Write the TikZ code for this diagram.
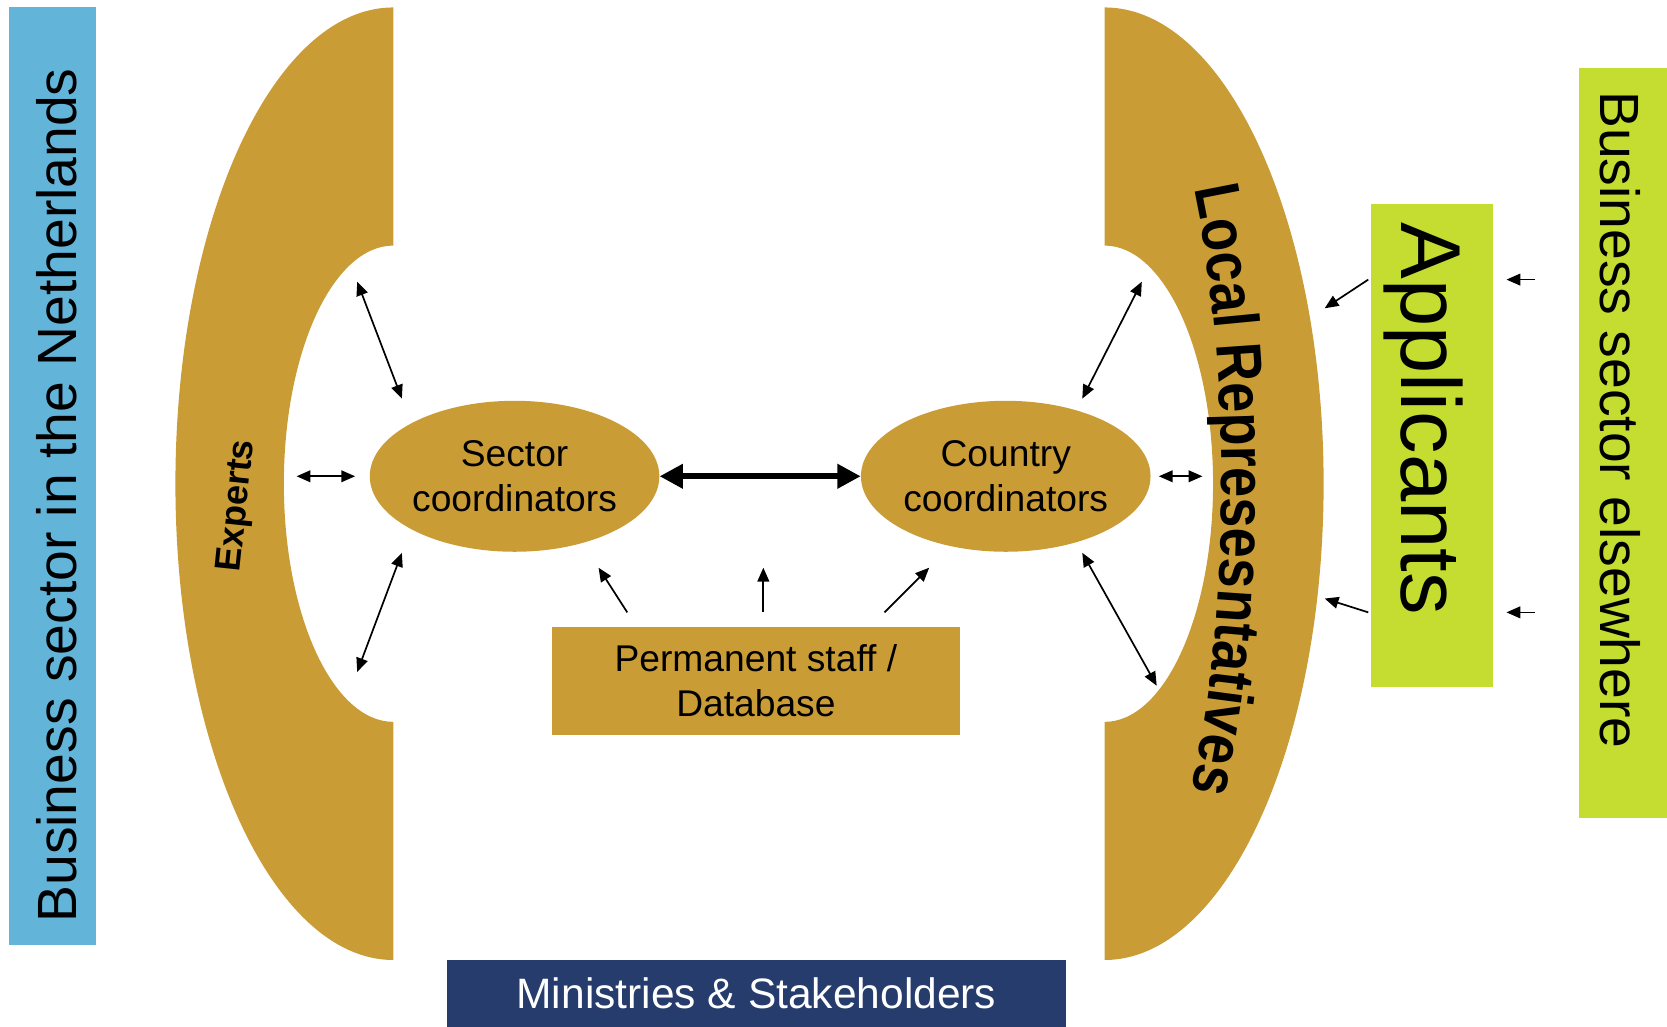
\documentclass[tikz,border=0pt]{standalone}
\usepackage{fontspec}
\setmainfont{Liberation Sans}
\newfontfamily\archfont[FakeStretch=0.85]{Liberation Sans}
\usetikzlibrary{arrows.meta,shapes.geometric,decorations.text}
\definecolor{goldband}{HTML}{CA9C36}
\definecolor{nlblue}{HTML}{62B4D9}
\definecolor{limegreen}{HTML}{C5DC30}
\definecolor{ministry}{HTML}{263C6C}

\begin{document}
\begin{tikzpicture}[x=1pt, y=1pt,
		coord/.style = {ellipse, fill=goldband, minimum width=270pt, minimum height=142pt, inner sep=0pt, align=center, font=\fontsize{35}{42}\selectfont},
		band/.style = {inner sep=0pt, font=\fontsize{52}{60}\selectfont},
		link/.style = {line width=1.6pt, {Triangle[length=13pt,width=11pt]}-{Triangle[length=13pt,width=11pt]}},
		feed/.style = {line width=1.6pt, -{Triangle[length=13pt,width=11pt]}}]
	\useasboundingbox (0,0) rectangle (1568,966);

	\fill[nlblue] (8,77) rectangle (90,959);
	\fill[limegreen] (1485,197) rectangle (1568,902);
	\fill[limegreen] (1290,320) rectangle (1404,774);

	\fill[goldband] (370,959) arc[start angle=90, end angle=270, x radius=205pt, y radius=448pt] -- (370,287) arc[start angle=270, end angle=90, x radius=103pt, y radius=224pt] -- cycle;
	\fill[goldband] (1039,959) arc[start angle=90, end angle=-90, x radius=206pt, y radius=448pt] -- (1039,287) arc[start angle=-90, end angle=90, x radius=102pt, y radius=224pt] -- cycle;

	\node[band, rotate=90, anchor=base] (nl) at (72,500) {Business sector in the Netherlands};
	\node[band, rotate=-90, anchor=base] (abroad) at (1505,571) {Business sector elsewhere};
	\node[inner sep=0pt, rotate=-90, anchor=base, font=\fontsize{80}{90}\selectfont] (appl) at (1318,572) {Applicants};
	\node[inner sep=0pt, rotate=84, font=\bfseries\fontsize{34}{40}\selectfont] (exp) at (224,490) {Experts};

	\coordinate (lrc) at (1039,511);
	\path[decorate, decoration={text along path, text align=center, text={|\archfont\bfseries\fontsize{60}{70}\selectfont|Local Represesntatives}}] ([shift={(60:110pt and 430pt)}]lrc) arc[start angle=60, end angle=-63, x radius=110pt, y radius=430pt];

	\node[coord] (sec) at (484,518) {Sector\\coordinators};
	\node[coord, minimum width=256pt] (cty) at (946,518) {Country\\coordinators};
	\node[fill=goldband, minimum width=384pt, minimum height=101pt, inner sep=0pt, align=center, font=\fontsize{35}{42}\selectfont] (staff) at (711,325.5) {Permanent staff /\\Database};
	\node[fill=ministry, text=white, minimum width=583pt, minimum height=63pt, inner sep=0pt, font=\fontsize{40}{48}\selectfont] (min) at (711.5,31.5) {Ministries \& Stakeholders};

	\coordinate (ex-top) at (336,701);
	\coordinate (sec-top) at (378,591);
	\coordinate (ex-mid) at (279,518);
	\coordinate (sec-mid) at (334,518);
	\coordinate (ex-bot) at (336,334);
	\coordinate (sec-bot) at (378,446);
	\coordinate (lr-top) at (1074,701);
	\coordinate (cty-top) at (1018,591);
	\coordinate (cty-mid) at (1090,518);
	\coordinate (lr-mid) at (1131,518);
	\coordinate (lr-bot) at (1088,321);
	\coordinate (cty-bot) at (1018,446);
	\coordinate (st-1) at (590,390);
	\coordinate (st-2) at (718,390);
	\coordinate (st-3) at (832,390);
	\coordinate (sec-in) at (563,432);
	\coordinate (mid-in) at (718,432);
	\coordinate (cty-in) at (874,432);
	\coordinate (ap-1) at (1287,703);
	\coordinate (ap-2) at (1287,390);
	\coordinate (lr-in1) at (1246,676);
	\coordinate (lr-in2) at (1246,403);
	\coordinate (ab-1) at (1444,703);
	\coordinate (ab-2) at (1444,390);
	\coordinate (ap-in1) at (1417,703);
	\coordinate (ap-in2) at (1417,390);

	\draw[line width=6pt, {Triangle[length=22pt,width=22pt]}-{Triangle[length=22pt,width=22pt]}] (sec) -- (cty);
	\draw[link] (ex-top) -- (sec-top);
	\draw[link] (ex-mid) -- (sec-mid);
	\draw[link] (ex-bot) -- (sec-bot);
	\draw[link] (lr-top) -- (cty-top);
	\draw[link] (cty-mid) -- (lr-mid);
	\draw[link] (lr-bot) -- (cty-bot);
	\draw[feed] (st-1) -- (sec-in);
	\draw[feed] (st-2) -- (mid-in);
	\draw[feed] (st-3) -- (cty-in);
	\draw[feed] (ap-1) -- (lr-in1);
	\draw[feed] (ap-2) -- (lr-in2);
	\draw[feed] (ab-1) -- (ap-in1);
	\draw[feed] (ab-2) -- (ap-in2);
\end{tikzpicture}
\end{document}
